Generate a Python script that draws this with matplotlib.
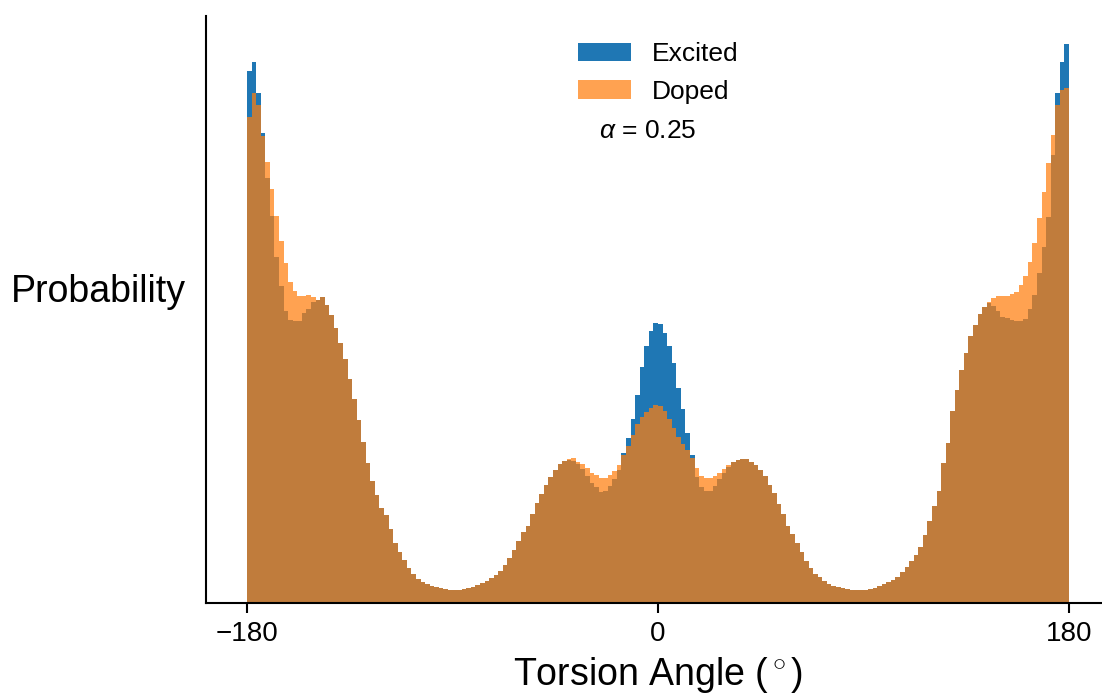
import numpy as np
import matplotlib.pyplot as plt

plt.rcParams['font.family'] = ['Liberation Sans', 'DejaVu Sans']
plt.rcParams['mathtext.fontset'] = 'custom'
plt.rcParams['mathtext.rm'] = 'Liberation Sans'
plt.rcParams['mathtext.it'] = 'Liberation Sans:italic'

# histogram bins, 2 degrees wide, from -180 to 180
edges = np.arange(-180, 181, 2)
centers = edges[:-1] + 1

# bin heights (arbitrary units)
excited = [532, 541, 510, 470, 425, 387, 346, 317, 292, 283,
           282, 282, 290, 294, 301, 303, 306, 298, 288, 275,
           260, 244, 224, 204, 183, 161, 140, 122, 108, 95,
           88, 74, 60, 51, 43, 35, 29, 24, 21, 19,
           17, 16, 15, 14, 13, 13, 13, 14, 15, 16,
           18, 20, 22, 25, 28, 32, 38, 45, 53, 62,
           71, 77, 89, 100, 109, 118, 126, 133, 139, 142,
           143, 142, 139, 134, 127, 120, 116, 111, 112, 117,
           124, 133, 150, 165, 184, 208, 236, 257, 272, 280,
           279, 270, 257, 240, 215, 194, 170, 148, 126, 116,
           112, 112, 117, 124, 130, 136, 141, 143, 144, 144,
           141, 138, 133, 127, 118, 110, 99, 89, 77, 69,
           60, 51, 42, 35, 29, 26, 22, 19, 17, 16,
           15, 14, 13, 13, 13, 13, 14, 15, 17, 19,
           21, 23, 26, 31, 36, 42, 48, 56, 68, 82,
           97, 112, 140, 160, 192, 213, 233, 250, 267, 278,
           289, 296, 300, 297, 292, 286, 285, 283, 282, 282,
           284, 294, 308, 330, 356, 386, 448, 510, 541, 559]

doped = [486, 510, 498, 467, 441, 414, 387, 362, 340, 321,
         312, 307, 307, 308, 306, 303, 306, 298, 288, 275,
         260, 244, 224, 204, 183, 161, 140, 122, 108, 95,
         88, 74, 60, 51, 43, 35, 29, 24, 21, 19,
         17, 16, 15, 14, 13, 13, 13, 14, 15, 16,
         18, 20, 22, 25, 28, 32, 38, 45, 53, 62,
         71, 77, 89, 100, 109, 118, 126, 133, 139, 142,
         144, 145, 141, 139, 135, 130, 128, 125, 125, 128,
         132, 138, 148, 157, 168, 179, 186, 191, 195, 198,
         197, 192, 184, 175, 166, 159, 153, 145, 135, 127,
         125, 125, 127, 130, 134, 138, 141, 143, 144, 144,
         141, 138, 133, 127, 118, 110, 99, 89, 77, 69,
         60, 51, 42, 35, 29, 26, 22, 19, 17, 16,
         15, 14, 13, 13, 13, 13, 14, 15, 17, 19,
         21, 23, 26, 31, 36, 42, 48, 56, 68, 82,
         97, 112, 140, 160, 192, 213, 233, 250, 267, 278,
         289, 296, 301, 305, 307, 307, 307, 309, 311, 318,
         327, 341, 360, 385, 411, 440, 468, 498, 513, 515]

fig = plt.figure(figsize=(11.02, 6.98), dpi=100)
ax = fig.add_axes([206/1102, 95/698, 904/1102, 587/698])

ax.hist(centers, bins=edges, weights=excited, color='tab:blue', label='Excited')
ax.hist(centers, bins=edges, weights=doped, color='tab:orange', alpha=0.72,
        label='Doped')

ax.set_xlim(-198, 198)
ax.set_ylim(0, 587)
ax.set_xticks([-180, 0, 180])
ax.set_yticks([])
ax.tick_params(axis='x', labelsize=20, length=7, width=1.5, pad=6)
for s in ['top', 'right']:
    ax.spines[s].set_visible(False)
for s in ['left', 'bottom']:
    ax.spines[s].set_linewidth(1.5)

ax.set_xlabel(r'Torsion Angle ($^\circ$)', fontsize=27, labelpad=6)
ax.set_ylabel('Probability', fontsize=27, rotation=0, ha='right', va='center')
ax.yaxis.set_label_coords(-0.022, 0.53)

ax.legend(loc='center', bbox_to_anchor=(658/1102, 1 - 73/698),
          bbox_transform=fig.transFigure, frameon=False, fontsize=19,
          labelspacing=0.5, handletextpad=0.8)
fig.text(648/1102, 1 - 131/698, r'$\alpha$ = 0.25', fontsize=19,
         ha='center', va='center')

fig.savefig('out.png', dpi=100)
